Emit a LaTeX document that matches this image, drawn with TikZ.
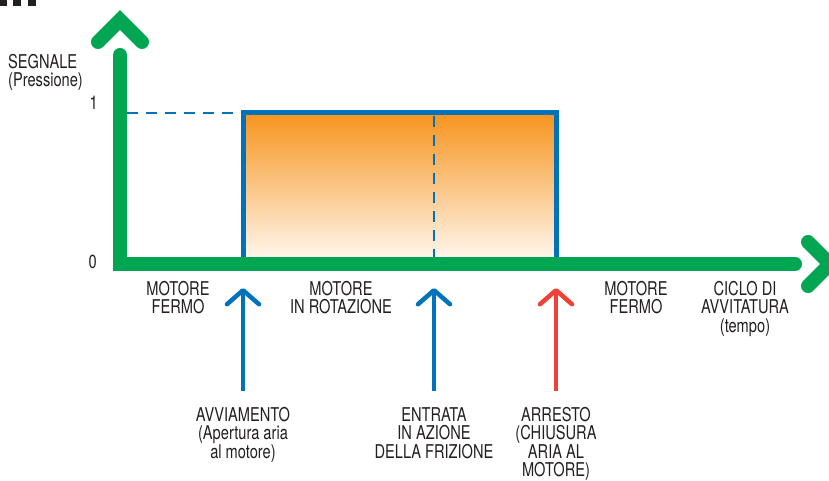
\documentclass[tikz,border=0pt]{standalone}
\usepackage{fontspec}
\setmainfont{TeX Gyre Heros}[FakeStretch=0.77]
\usetikzlibrary{arrows.meta}
\definecolor{axisgreen}{RGB}{0,166,81}
\definecolor{signalblue}{RGB}{0,114,188}
\definecolor{stopred}{RGB}{239,65,54}
\definecolor{fillorange}{RGB}{247,148,29}
\definecolor{fillpale}{RGB}{255,250,244}
\definecolor{textgray}{RGB}{35,31,32}
\tikzset{
  axis line/.style = {line width=14pt, draw=axisgreen, line cap=round, line join=miter}
}
\tikzset{
  signal box/.style = {line width=5pt, draw=signalblue}
}
\tikzset{
  level line/.style = {line width=2pt, draw=signalblue, dash pattern=on 11pt off 8pt}
}
\tikzset{
  pointer/.style = {line width=4.5pt, -{Straight Barb[length=14pt,width=32pt,round]}}
}
\tikzset{
  every node/.style = {font=\fontsize{19}{18.5}\selectfont, text=textgray, inner sep=0pt}
}

\begin{document}
\begin{tikzpicture}[x=1pt, y=1pt]
  \useasboundingbox (0,0) rectangle (829,481);
  \clip (0,0) rectangle (829,481);

  % Heading marks (cut off)
  \foreach \x/\w in {0/7,13/8,28/8}
    \fill[textgray] (\x,475) rectangle ++(\w,6);

  % Signal
  \shade[top color=fillorange, bottom color=fillpale]
    (243,368) rectangle (556,217);
  \draw[signal box] (243,217) -- (243,368) -- (556,368) -- (556,217);
  \draw[level line] (127,368) -- (243,368);
  \draw[level line] (434,365) -- (434,222);

  % Coordinate axes
  \draw[axis line] (120,426) -- (120,217) -- (795,217);
  \draw[axis line] (98,439) -- (120,461) -- (142,439);
  \draw[axis line] (808,239) -- (830,217) -- (808,195);

  \node[anchor=north west, align=left] (signal) at (8,427)
    {SEGNALE\\(Pressione)};
  \node[anchor=base east] (one) at (98,371) {1};
  \node[anchor=base east] (zero) at (97,212) {0};

  % Phases
  \node[anchor=north, align=center] (stillA) at (178,200) {MOTORE\\FERMO};
  \node[anchor=north, align=center] (turning) at (341,200) {MOTORE\\IN ROTAZIONE};
  \node[anchor=north, align=center] (stillB) at (636,200) {MOTORE\\FERMO};
  \node[anchor=north, align=center] (cycle) at (745,200)
    {CICLO DI\\AVVITATURA\\(tempo)};

  % Events
  \node[anchor=north, align=center] (start) at (243,74)
    {AVVIAMENTO\\(Apertura aria\\al motore)};
  \node[anchor=north, align=center] (clutch) at (434,74)
    {ENTRATA\\IN AZIONE\\DELLA FRIZIONE};
  \node[anchor=north, align=center] (stop) at (556,74)
    {ARRESTO\\(CHIUSURA\\ARIA AL\\MOTORE)};

  \coordinate (start tip) at (243,193);
  \coordinate (clutch tip) at (434,193);
  \coordinate (stop tip) at (556,193);
  \draw[pointer, signalblue] ([yshift=16pt]start.north) -- (start tip);
  \draw[pointer, signalblue] ([yshift=16pt]clutch.north) -- (clutch tip);
  \draw[pointer, stopred] ([yshift=16pt]stop.north) -- (stop tip);
\end{tikzpicture}
\end{document}
